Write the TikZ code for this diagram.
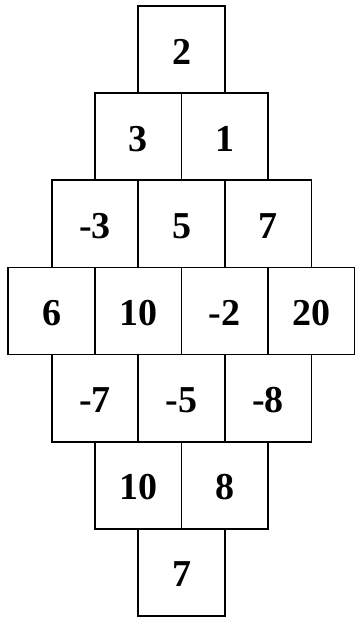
\documentclass[tikz,border=0pt]{standalone}
\usepackage{fontspec}
\setmainfont{Liberation Serif}
\begin{document}
\begin{tikzpicture}[x=1pt,y=1pt,
  cell/.style={draw=black, line width=1.8pt, rectangle, minimum width=86.6pt, minimum height=87.1pt, inner sep=0pt, fill=white,
    font=\fontsize{38}{38}\selectfont\bfseries, text depth=0pt},
]
\useasboundingbox (0,0) rectangle (355,618);
\fill[white] (0,0) rectangle (355,618);
% centre x = 181.5, column step 86.6; row step 87.1, top at 612 (image y 6)
\def\cx{181.5}
% row 1
\node[cell] (r1a) at (181.5, 568.4) {\raisebox{-4pt}{2}};
% row 2
\node[cell] (r2a) at (138.2, 481.3) {\raisebox{-4pt}{3}};
\node[cell] (r2b) at (224.8, 481.3) {\raisebox{-4pt}{1}};
% row 3
\node[cell] (r3a) at (94.9, 394.1) {\raisebox{-4pt}{-3}};
\node[cell] (r3b) at (181.5, 394.1) {\raisebox{-4pt}{5}};
\node[cell] (r3c) at (268.1, 394.1) {\raisebox{-4pt}{7}};
% row 4
\node[cell] (r4a) at (51.6, 307.0) {\raisebox{-4pt}{6}};
\node[cell] (r4b) at (138.2, 307.0) {\raisebox{-4pt}{10}};
\node[cell] (r4c) at (224.8, 307.0) {\raisebox{-4pt}{-2}};
\node[cell] (r4d) at (311.4, 307.0) {\raisebox{-4pt}{20}};
% row 5
\node[cell] (r5a) at (94.9, 219.9) {\raisebox{-4pt}{-7}};
\node[cell] (r5b) at (181.5, 219.9) {\raisebox{-4pt}{-5}};
\node[cell] (r5c) at (268.1, 219.9) {\raisebox{-4pt}{-8}};
% row 6
\node[cell] (r6a) at (138.2, 132.8) {\raisebox{-4pt}{10}};
\node[cell] (r6b) at (224.8, 132.8) {\raisebox{-4pt}{8}};
% row 7
\node[cell] (r7a) at (181.5, 45.7) {\raisebox{-4pt}{7}};
\end{tikzpicture}
\end{document}
